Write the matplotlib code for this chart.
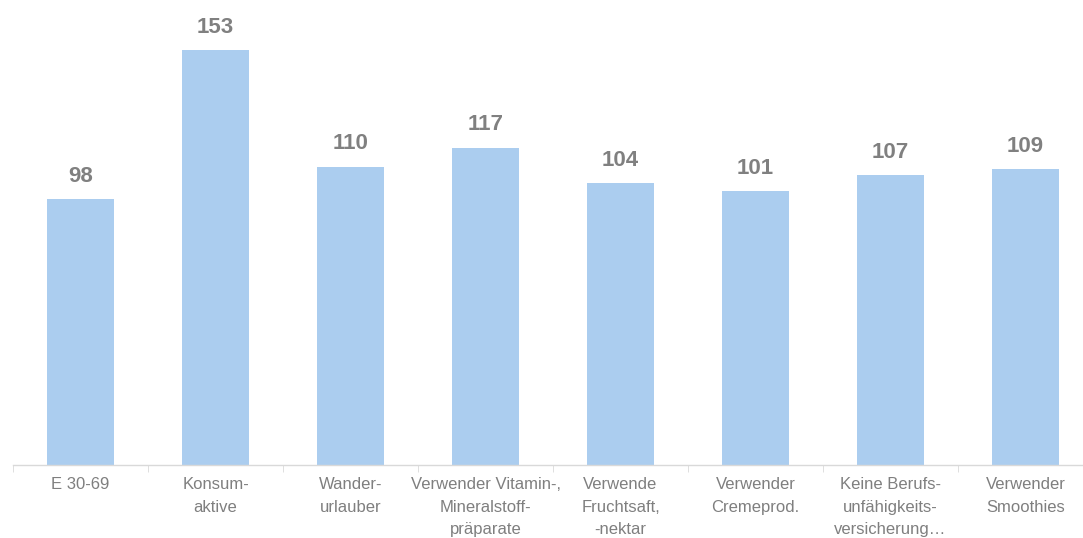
import matplotlib
matplotlib.use('Agg')
import matplotlib.pyplot as plt
import numpy as np

categories = ['E 30-69', 'Konsum-\naktive', 'Wander-\nurlauber',
              'Verwender Vitamin-,\nMineralstoff-\npräparate',
              'Verwende\nFruchtsaft,\n-nektar', 'Verwender\nCremeprod.',
              'Keine Berufs-\nunfähigkeits-\nversicherung…',
              'Verwender\nSmoothies']
values = [98, 153, 110, 117, 104, 101, 107, 109]

plt.rcParams['font.family'] = ['Liberation Sans', 'DejaVu Sans']

W, H = 1083, 538
fig = plt.figure(figsize=(W / 100, H / 100), dpi=100)
# axes spans x 13..1093 px, baseline at y=465 px
ax = fig.add_axes([13 / W, (H - 465) / H, 1080 / W, 465 / H])

x = np.arange(len(values))
ax.bar(x, values, width=0.5, color='#ABCDEF')
for xi, v in zip(x, values):
    ax.text(xi, v + 4.5, str(v), ha='center', va='bottom', fontsize=16,
            fontweight='bold', color='#808080')

ax.set_xlim(-0.5, len(values) - 0.5)
ax.set_ylim(0, 465 / 2.712)
ax.set_xticks(x)
ax.set_xticklabels(categories, fontsize=12, color='#7F7F7F', linespacing=1.65)
ax.set_xticks(np.arange(len(values) + 1) - 0.5, minor=True)
ax.tick_params(axis='x', which='major', length=0, pad=8.5)
ax.tick_params(axis='x', which='minor', length=5, color='#D9D9D9', direction='out')
ax.set_yticks([])
for s in ['top', 'right', 'left']:
    ax.spines[s].set_visible(False)
ax.spines['bottom'].set_color('#D9D9D9')
ax.spines['bottom'].set_linewidth(1)

fig.savefig('out.png', dpi=100)
